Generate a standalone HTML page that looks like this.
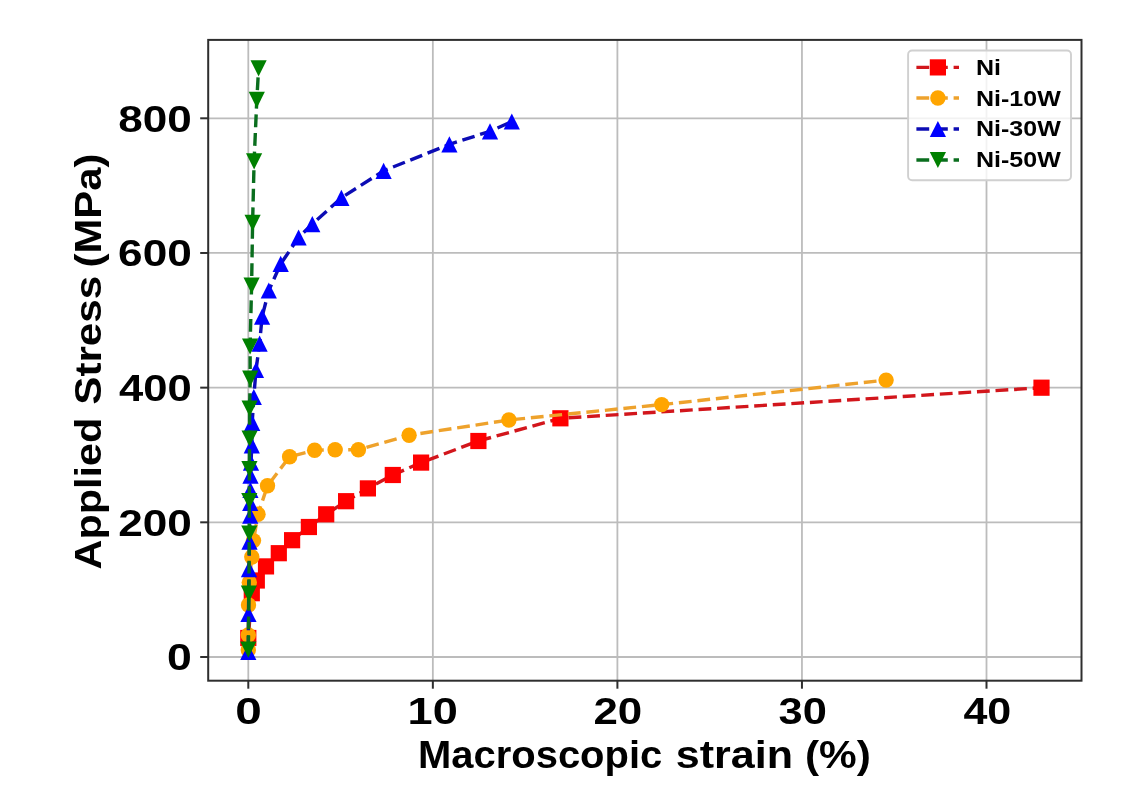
<!DOCTYPE html>
<html><head><meta charset="utf-8"><style>
html,body{margin:0;padding:0;background:#fff;overflow:hidden}
svg{display:block}
#w{width:1147px;height:806px;background:#fff}
text{font-family:"Liberation Sans",sans-serif;font-weight:bold}
#w svg{will-change:transform}
</style></head><body><div id="w">
<svg width="1147" height="806" viewBox="0 0 1147 806" font-family="Liberation Sans, sans-serif" font-weight="bold">
<rect width="1147" height="806" fill="#fff"/>
<line x1="248.30" y1="39.9" x2="248.30" y2="680.7" stroke="#bcbcbc" stroke-width="1.8"/>
<line x1="432.85" y1="39.9" x2="432.85" y2="680.7" stroke="#bcbcbc" stroke-width="1.8"/>
<line x1="617.40" y1="39.9" x2="617.40" y2="680.7" stroke="#bcbcbc" stroke-width="1.8"/>
<line x1="801.95" y1="39.9" x2="801.95" y2="680.7" stroke="#bcbcbc" stroke-width="1.8"/>
<line x1="986.50" y1="39.9" x2="986.50" y2="680.7" stroke="#bcbcbc" stroke-width="1.8"/>
<line x1="208.2" y1="657.00" x2="1081.5" y2="657.00" stroke="#bcbcbc" stroke-width="1.8"/>
<line x1="208.2" y1="522.32" x2="1081.5" y2="522.32" stroke="#bcbcbc" stroke-width="1.8"/>
<line x1="208.2" y1="387.65" x2="1081.5" y2="387.65" stroke="#bcbcbc" stroke-width="1.8"/>
<line x1="208.2" y1="252.97" x2="1081.5" y2="252.97" stroke="#bcbcbc" stroke-width="1.8"/>
<line x1="208.2" y1="118.30" x2="1081.5" y2="118.30" stroke="#bcbcbc" stroke-width="1.8"/>
<g stroke-linecap="butt">
<polyline points="248.3,638.0 251.8,593.2 256.8,580.5 266.0,566.4 278.8,553.2 292.1,540.2 308.9,527.0 326.2,514.3 346.1,501.2 367.9,488.4 392.8,475.0 421.1,462.6 478.4,441.0 560.4,418.3 1041.5,387.7" fill="none" stroke="#d2161c" stroke-width="3.4" stroke-dasharray="12.8,5.8" stroke-dashoffset="9.77"/>
<rect x="240.20" y="629.90" width="16.2" height="16.2" fill="#ff0000"/>
<rect x="243.70" y="585.10" width="16.2" height="16.2" fill="#ff0000"/>
<rect x="248.70" y="572.40" width="16.2" height="16.2" fill="#ff0000"/>
<rect x="257.90" y="558.30" width="16.2" height="16.2" fill="#ff0000"/>
<rect x="270.70" y="545.10" width="16.2" height="16.2" fill="#ff0000"/>
<rect x="284.00" y="532.10" width="16.2" height="16.2" fill="#ff0000"/>
<rect x="300.80" y="518.90" width="16.2" height="16.2" fill="#ff0000"/>
<rect x="318.10" y="506.20" width="16.2" height="16.2" fill="#ff0000"/>
<rect x="338.00" y="493.10" width="16.2" height="16.2" fill="#ff0000"/>
<rect x="359.80" y="480.30" width="16.2" height="16.2" fill="#ff0000"/>
<rect x="384.70" y="466.90" width="16.2" height="16.2" fill="#ff0000"/>
<rect x="413.00" y="454.50" width="16.2" height="16.2" fill="#ff0000"/>
<rect x="470.30" y="432.90" width="16.2" height="16.2" fill="#ff0000"/>
<rect x="552.30" y="410.20" width="16.2" height="16.2" fill="#ff0000"/>
<rect x="1033.40" y="379.60" width="16.2" height="16.2" fill="#ff0000"/>
<polyline points="248.3,650.0 248.3,635.0 248.5,605.0 249.3,582.5 251.8,557.0 253.5,540.6 258.0,514.2 267.5,485.8 289.6,456.7 314.6,450.2 335.1,449.8 358.4,449.8 409.1,435.2 508.9,420.0 661.7,404.6 886.1,380.1" fill="none" stroke="#eea22c" stroke-width="3.4" stroke-dasharray="12.8,5.8" stroke-dashoffset="16.69"/>
<circle cx="248.30" cy="650.00" r="7.70" fill="#ffa500"/>
<circle cx="248.30" cy="635.00" r="7.70" fill="#ffa500"/>
<circle cx="248.50" cy="605.00" r="7.70" fill="#ffa500"/>
<circle cx="249.30" cy="582.50" r="7.70" fill="#ffa500"/>
<circle cx="251.80" cy="557.00" r="7.70" fill="#ffa500"/>
<circle cx="253.50" cy="540.60" r="7.70" fill="#ffa500"/>
<circle cx="258.00" cy="514.20" r="7.70" fill="#ffa500"/>
<circle cx="267.50" cy="485.80" r="7.70" fill="#ffa500"/>
<circle cx="289.60" cy="456.70" r="7.70" fill="#ffa500"/>
<circle cx="314.60" cy="450.20" r="7.70" fill="#ffa500"/>
<circle cx="335.10" cy="449.80" r="7.70" fill="#ffa500"/>
<circle cx="358.40" cy="449.80" r="7.70" fill="#ffa500"/>
<circle cx="409.10" cy="435.20" r="7.70" fill="#ffa500"/>
<circle cx="508.90" cy="420.00" r="7.70" fill="#ffa500"/>
<circle cx="661.70" cy="404.60" r="7.70" fill="#ffa500"/>
<circle cx="886.10" cy="380.10" r="7.70" fill="#ffa500"/>
<polyline points="248.3,652.0 248.5,614.0 249.0,569.1 249.5,541.7 250.2,515.7 250.2,503.0 250.4,490.0 250.5,475.6 251.0,462.7 251.8,445.3 252.2,422.8 253.8,397.0 256.0,370.0 259.6,343.7 262.1,316.7 268.8,290.5 280.7,263.9 298.6,237.5 312.3,224.1 341.4,197.8 383.6,170.8 449.4,144.4 490.0,131.3 511.8,121.5" fill="none" stroke="#0c0cb4" stroke-width="3.4" stroke-dasharray="12.8,5.8" stroke-dashoffset="15.42"/>
<path d="M248.30,643.90L256.40,660.10L240.20,660.10Z" fill="#0000ff"/>
<path d="M248.50,605.90L256.60,622.10L240.40,622.10Z" fill="#0000ff"/>
<path d="M249.00,561.00L257.10,577.20L240.90,577.20Z" fill="#0000ff"/>
<path d="M249.50,533.60L257.60,549.80L241.40,549.80Z" fill="#0000ff"/>
<path d="M250.20,507.60L258.30,523.80L242.10,523.80Z" fill="#0000ff"/>
<path d="M250.20,494.90L258.30,511.10L242.10,511.10Z" fill="#0000ff"/>
<path d="M250.40,481.90L258.50,498.10L242.30,498.10Z" fill="#0000ff"/>
<path d="M250.50,467.50L258.60,483.70L242.40,483.70Z" fill="#0000ff"/>
<path d="M251.00,454.60L259.10,470.80L242.90,470.80Z" fill="#0000ff"/>
<path d="M251.80,437.20L259.90,453.40L243.70,453.40Z" fill="#0000ff"/>
<path d="M252.20,414.70L260.30,430.90L244.10,430.90Z" fill="#0000ff"/>
<path d="M253.80,388.90L261.90,405.10L245.70,405.10Z" fill="#0000ff"/>
<path d="M256.00,361.90L264.10,378.10L247.90,378.10Z" fill="#0000ff"/>
<path d="M259.60,335.60L267.70,351.80L251.50,351.80Z" fill="#0000ff"/>
<path d="M262.10,308.60L270.20,324.80L254.00,324.80Z" fill="#0000ff"/>
<path d="M268.80,282.40L276.90,298.60L260.70,298.60Z" fill="#0000ff"/>
<path d="M280.70,255.80L288.80,272.00L272.60,272.00Z" fill="#0000ff"/>
<path d="M298.60,229.40L306.70,245.60L290.50,245.60Z" fill="#0000ff"/>
<path d="M312.30,216.00L320.40,232.20L304.20,232.20Z" fill="#0000ff"/>
<path d="M341.40,189.70L349.50,205.90L333.30,205.90Z" fill="#0000ff"/>
<path d="M383.60,162.70L391.70,178.90L375.50,178.90Z" fill="#0000ff"/>
<path d="M449.40,136.30L457.50,152.50L441.30,152.50Z" fill="#0000ff"/>
<path d="M490.00,123.20L498.10,139.40L481.90,139.40Z" fill="#0000ff"/>
<path d="M511.80,113.40L519.90,129.60L503.70,129.60Z" fill="#0000ff"/>
<polyline points="248.3,649.6 248.9,593.6 249.3,533.6 249.3,501.0 249.4,469.0 249.6,438.5 249.6,408.5 250.2,378.6 250.1,346.5 251.6,285.6 252.6,222.9 254.1,161.4 256.8,99.9 258.6,68.4" fill="none" stroke="#0a6e1e" stroke-width="3.4" stroke-dasharray="12.8,5.8" stroke-dashoffset="16.93"/>
<path d="M248.30,657.70L256.40,641.50L240.20,641.50Z" fill="#008000"/>
<path d="M248.90,601.70L257.00,585.50L240.80,585.50Z" fill="#008000"/>
<path d="M249.30,541.70L257.40,525.50L241.20,525.50Z" fill="#008000"/>
<path d="M249.30,509.10L257.40,492.90L241.20,492.90Z" fill="#008000"/>
<path d="M249.40,477.10L257.50,460.90L241.30,460.90Z" fill="#008000"/>
<path d="M249.60,446.60L257.70,430.40L241.50,430.40Z" fill="#008000"/>
<path d="M249.60,416.60L257.70,400.40L241.50,400.40Z" fill="#008000"/>
<path d="M250.20,386.70L258.30,370.50L242.10,370.50Z" fill="#008000"/>
<path d="M250.10,354.60L258.20,338.40L242.00,338.40Z" fill="#008000"/>
<path d="M251.60,293.70L259.70,277.50L243.50,277.50Z" fill="#008000"/>
<path d="M252.60,231.00L260.70,214.80L244.50,214.80Z" fill="#008000"/>
<path d="M254.10,169.50L262.20,153.30L246.00,153.30Z" fill="#008000"/>
<path d="M256.80,108.00L264.90,91.80L248.70,91.80Z" fill="#008000"/>
<path d="M258.60,76.50L266.70,60.30L250.50,60.30Z" fill="#008000"/>
</g>
<rect x="208.2" y="39.9" width="873.30" height="640.80" fill="none" stroke="#2e2e2e" stroke-width="2.0"/>
<line x1="248.30" y1="680.7" x2="248.30" y2="688.7" stroke="#2e2e2e" stroke-width="2.0"/>
<line x1="432.85" y1="680.7" x2="432.85" y2="688.7" stroke="#2e2e2e" stroke-width="2.0"/>
<line x1="617.40" y1="680.7" x2="617.40" y2="688.7" stroke="#2e2e2e" stroke-width="2.0"/>
<line x1="801.95" y1="680.7" x2="801.95" y2="688.7" stroke="#2e2e2e" stroke-width="2.0"/>
<line x1="986.50" y1="680.7" x2="986.50" y2="688.7" stroke="#2e2e2e" stroke-width="2.0"/>
<line x1="200.2" y1="657.00" x2="208.2" y2="657.00" stroke="#2e2e2e" stroke-width="2.0"/>
<line x1="200.2" y1="522.32" x2="208.2" y2="522.32" stroke="#2e2e2e" stroke-width="2.0"/>
<line x1="200.2" y1="387.65" x2="208.2" y2="387.65" stroke="#2e2e2e" stroke-width="2.0"/>
<line x1="200.2" y1="252.97" x2="208.2" y2="252.97" stroke="#2e2e2e" stroke-width="2.0"/>
<line x1="200.2" y1="118.30" x2="208.2" y2="118.30" stroke="#2e2e2e" stroke-width="2.0"/>
<text transform="translate(167.04,670.34) scale(1.2233,1)" font-size="36.44" fill="#000" >0</text>
<text transform="translate(118.17,535.67) scale(1.2112,1)" font-size="36.44" fill="#000" >200</text>
<text transform="translate(119.04,400.99) scale(1.1965,1)" font-size="36.44" fill="#000" >400</text>
<text transform="translate(118.08,266.32) scale(1.2127,1)" font-size="36.44" fill="#000" >600</text>
<text transform="translate(118.30,131.64) scale(1.2090,1)" font-size="36.44" fill="#000" >800</text>
<text transform="translate(235.36,723.74) scale(1.2948,1)" font-size="36.86" fill="#000" >0</text>
<text transform="translate(407.56,723.74) scale(1.2241,1)" font-size="36.86" fill="#000" >10</text>
<text transform="translate(593.43,723.74) scale(1.1907,1)" font-size="36.86" fill="#000" >20</text>
<text transform="translate(778.50,723.69) scale(1.1798,1)" font-size="36.79" fill="#000" >30</text>
<text transform="translate(963.40,723.74) scale(1.1686,1)" font-size="36.86" fill="#000" >40</text>
<text transform="translate(418.03,767.70) scale(1.0451,1)" font-size="38.23">Macroscopic</text>
<text transform="translate(675.79,767.70) scale(1.1257,1)" font-size="38.23">strain</text>
<text transform="translate(804.99,767.70) scale(1.1089,1)" font-size="38.23">(%)</text>
<text transform="translate(100.90,569.53) rotate(-90) scale(1.0967,1)" font-size="37.79">Applied</text>
<text transform="translate(100.90,404.71) rotate(-90) scale(1.1159,1)" font-size="37.79">Stress</text>
<text transform="translate(100.90,267.49) rotate(-90) scale(1.1079,1)" font-size="37.79">(MPa)</text>
<rect x="908.1" y="50.5" width="162.9" height="129.8" rx="4" ry="4" fill="#fff" fill-opacity="0.8" stroke="#d0d0d0" stroke-width="1.9"/>
<line x1="916.4" y1="67.4" x2="959" y2="67.4" stroke="#d2161c" stroke-width="3.4" stroke-dasharray="12.8,5.8"/>
<rect x="929.80" y="59.30" width="16.2" height="16.2" fill="#ff0000"/>
<line x1="916.4" y1="98.0" x2="959" y2="98.0" stroke="#eea22c" stroke-width="3.4" stroke-dasharray="12.8,5.8"/>
<circle cx="937.90" cy="98.00" r="7.70" fill="#ffa500"/>
<line x1="916.4" y1="129.0" x2="959" y2="129.0" stroke="#0c0cb4" stroke-width="3.4" stroke-dasharray="12.8,5.8"/>
<path d="M937.90,120.90L946.00,137.10L929.80,137.10Z" fill="#0000ff"/>
<line x1="916.4" y1="160.0" x2="959" y2="160.0" stroke="#0a6e1e" stroke-width="3.4" stroke-dasharray="12.8,5.8"/>
<path d="M937.90,168.10L946.00,151.90L929.80,151.90Z" fill="#008000"/>
<text transform="translate(976.03,74.60) scale(1.1476,1)" font-size="21.80">Ni</text>
<text transform="translate(976.03,105.60) scale(1.1476,1)" font-size="21.80">Ni-10W</text>
<text transform="translate(976.03,136.40) scale(1.1476,1)" font-size="21.80">Ni-30W</text>
<text transform="translate(976.03,167.30) scale(1.1476,1)" font-size="21.80">Ni-50W</text>
</svg>
</div></body></html>
